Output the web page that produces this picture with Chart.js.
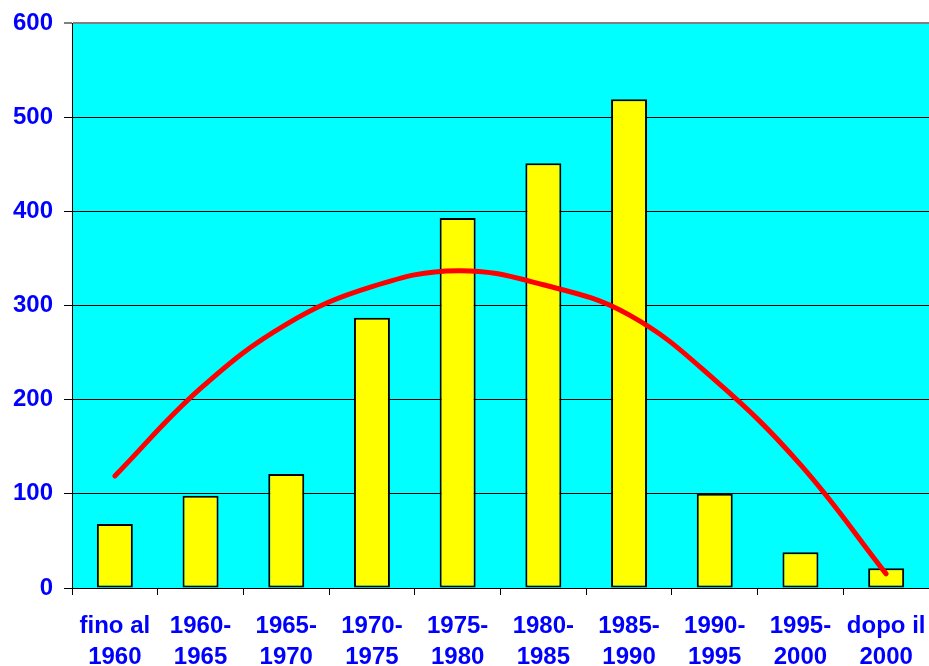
<!DOCTYPE html>
<html>
<head>
<meta charset="utf-8">
<script src="https://cdn.jsdelivr.net/npm/chart.js@4/dist/chart.umd.min.js"></script>
<style>
  html, body { margin: 0; padding: 0; background: #ffffff; }
  #wrap { width: 929px; height: 666px; }
</style>
</head>
<body>
<div id="wrap"><canvas id="c" width="929" height="666"></canvas></div>
<script>
const categories = [
  ['fino al', '1960'], ['1960-', '1965'], ['1965-', '1970'], ['1970-', '1975'],
  ['1975-', '1980'], ['1980-', '1985'], ['1985-', '1990'], ['1990-', '1995'],
  ['1995-', '2000'], ['dopo il', '2000']
];
const counts = [68, 98, 121, 287, 393, 451, 519, 100, 38, 21];
const trend = [119, 212, 280, 320, 337, 322, 290, 221, 131, 15];
const yTicks = [0, 100, 200, 300, 400, 500, 600];

// cyan plot background
const plotBackground = {
  id: 'plotBackground',
  beforeDraw(chart) {
    const { ctx, chartArea: a } = chart;
    ctx.save();
    ctx.fillStyle = '#00FFFF';
    ctx.fillRect(a.left, a.top, a.right - a.left, a.bottom - a.top);
    ctx.restore();
  }
};

const labelFont = { family: '"Liberation Sans", Arial, sans-serif', size: 24, weight: 'bold', lineHeight: 1.3 };

new Chart(document.getElementById('c'), {
  data: {
    labels: categories,
    datasets: [
      {
        type: 'line',
        data: trend,
        borderColor: '#FF0000',
        borderWidth: 5,
        borderCapStyle: 'round',
        borderJoinStyle: 'round',
        pointRadius: 0,
        tension: 0.4,
        fill: false,
        order: 0
      },
      {
        type: 'bar',
        data: counts,
        backgroundColor: '#FFFF00',
        borderColor: '#000000',
        borderWidth: 2,
        borderSkipped: false,
        categoryPercentage: 1,
        barPercentage: 0.42,
        order: 1
      }
    ]
  },
  options: {
    responsive: false,
    animation: false,
    devicePixelRatio: 1,
    layout: { padding: { top: 23, right: 0, left: 0, bottom: 0 } },
    plugins: { legend: { display: false }, tooltip: { enabled: false } },
    scales: {
      x: {
        offset: true,
        afterFit(scale) {
          scale.height = 78;
          scale.paddingLeft = 0; scale.paddingRight = 0;
          scale.paddingTop = 0; scale.paddingBottom = 0;
        },
        grid: { display: true, drawOnChartArea: false, drawTicks: true, tickLength: 7, color: '#000000', offset: true },
        border: { display: true, color: '#000000', width: 1 },
        ticks: { color: '#0000FF', font: labelFont, padding: 16, maxRotation: 0, autoSkip: false }
      },
      y: {
        min: 0,
        max: 600,
        afterFit(scale) {
          scale.width = 72;
          scale.paddingLeft = 0; scale.paddingRight = 0;
          scale.paddingTop = 0; scale.paddingBottom = 0;
        },
        afterBuildTicks(scale) { scale.ticks = yTicks.map(v => ({ value: v })); },
        grid: {
          color: ctx => (ctx.tick && ctx.tick.value === 600 ? '#808080' : '#000000'),
          lineWidth: ctx => (ctx.tick && ctx.tick.value === 600 ? 2 : 1),
          tickLength: 8,
          drawTicks: true
        },
        border: { display: true, color: '#000000', width: 1 },
        ticks: { color: '#0000FF', font: labelFont, padding: 11 }
      }
    }
  },
  plugins: [plotBackground]
});
</script>
</body>
</html>
